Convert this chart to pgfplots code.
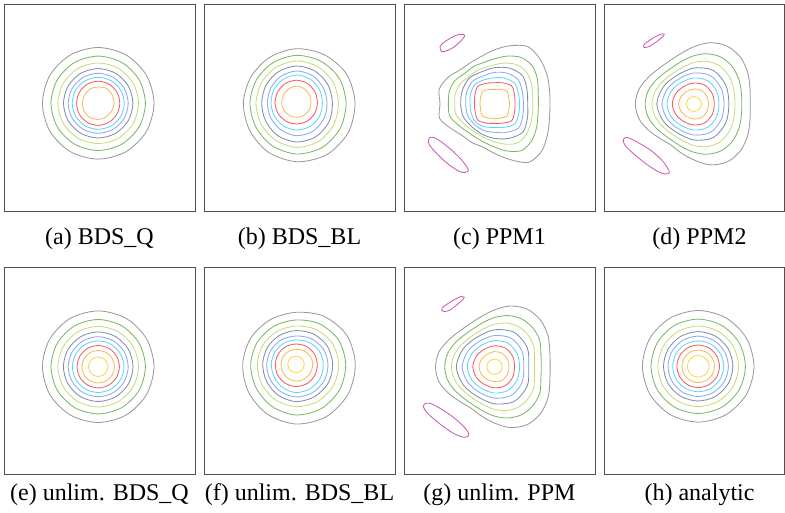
\documentclass[border=0pt]{standalone}
\usepackage{fontspec}
\setmainfont{Liberation Serif}
\usepackage{pgfplots}
\pgfplotsset{compat=1.18}

\definecolor{cgray}{HTML}{9A9A9A}
\definecolor{cgreen}{HTML}{78BA62}
\definecolor{cyg}{HTML}{C8DC78}
\definecolor{cslate}{HTML}{7D8FAF}
\definecolor{cblue}{HTML}{8CA8FA}
\definecolor{ccyan}{HTML}{5CD6FA}
\definecolor{cred}{HTML}{F85C5C}
\definecolor{corange}{HTML}{FDB85A}
\definecolor{cyellow}{HTML}{F8D848}
\definecolor{cmag}{HTML}{CC5AB4}
\definecolor{framec}{HTML}{505050}

% one panel = one axis, 1 unit = 1pt, origin at the peak of the field
\pgfplotsset{
  panel/.style={scale only axis, width=191pt, height=207pt, ticks=none,
    anchor=north west, axis line style={draw=framec, line width=0.8pt}},
  ct/.style={line width=0.85pt, mark=none, smooth cycle, tension=0.52, data cs=polar},
  lobe/.style={line width=0.85pt, mark=none, smooth cycle, cmag},
}

\begin{document}
\begin{tikzpicture}
\useasboundingbox (0,0) rectangle (785pt,-512pt);

% (a) BDS_Q
\begin{axis}[panel, at={(4pt,-4pt)}, xmin=-94.2, xmax=96.8, ymin=-107.7, ymax=99.3]
\addplot[ct, cgray] coordinates {(0,55.8) (30,55.8) (60,55.8) (90,55.8) (120,55.8) (150,55.8) (180,55.8) (210,55.8) (240,55.8) (270,55.8) (300,55.8) (330,55.8)};
\addplot[ct, cgreen] coordinates {(0,47.2) (30,47.2) (60,47.2) (90,47.2) (120,47.2) (150,47.2) (180,47.2) (210,47.2) (240,47.2) (270,47.2) (300,47.2) (330,47.2)};
\addplot[ct, cyg] coordinates {(0,40.3) (30,40.3) (60,40.3) (90,40.3) (120,40.3) (150,40.3) (180,40.3) (210,40.3) (240,40.3) (270,40.3) (300,40.3) (330,40.3)};
\addplot[ct, cslate] coordinates {(0,34.7) (30,34.7) (60,34.7) (90,34.7) (120,34.7) (150,34.7) (180,34.7) (210,34.7) (240,34.7) (270,34.7) (300,34.7) (330,34.7)};
\addplot[ct, cblue] coordinates {(0,30) (30,30) (60,30) (90,30) (120,30) (150,30) (180,30) (210,30) (240,30) (270,30) (300,30) (330,30)};
\addplot[ct, ccyan] coordinates {(0,26) (30,26) (60,26) (90,26) (120,26) (150,26) (180,26) (210,26) (240,26) (270,26) (300,26) (330,26)};
\addplot[ct, cred] coordinates {(0,21.6) (30,21.8) (60,22) (90,22.1) (120,22) (150,21.8) (180,21.6) (210,21.8) (240,22) (270,22.1) (300,21.8) (330,21.6)};
\addplot[ct, corange] coordinates {(0,15.8) (30,16.3) (60,17) (90,16.3) (120,16.5) (150,16) (180,15.8) (210,16.2) (240,16.5) (270,16.2) (300,15.8) (330,15.5)};
\end{axis}

% (b) BDS_BL
\begin{axis}[panel, at={(204pt,-4pt)}, xmin=-92.7, xmax=98.3, ymin=-108.3, ymax=98.7]
\addplot[ct, cgray] coordinates {(0,58.3) (30,57.5) (60,55.3) (90,54) (120,52.8) (150,52.5) (180,53.3) (210,54.5) (240,57) (270,59) (300,60) (330,59.5)};
\addplot[ct, cgreen] coordinates {(0,49.3) (30,49) (60,48) (90,47.3) (120,46.5) (150,46.3) (180,46.7) (210,47.5) (240,49.5) (270,51.3) (300,51.5) (330,50.5)};
\addplot[ct, cyg] coordinates {(0,41.7) (30,41.7) (60,41.7) (90,41.7) (120,41) (150,40.5) (180,40.7) (210,41.5) (240,43) (270,44.7) (300,44.5) (330,43)};
\addplot[ct, cslate] coordinates {(0,35.7) (30,36) (60,36.5) (90,36.7) (120,36) (150,35.3) (180,35) (210,36) (240,38) (270,39.3) (300,39) (330,37.5)};
\addplot[ct, cblue] coordinates {(0,30.3) (30,30.5) (60,31.3) (90,31.7) (120,30.8) (150,29.8) (180,29.3) (210,30) (240,31.5) (270,33) (300,32.8) (330,31.5)};
\addplot[ct, ccyan] coordinates {(0,25.7) (30,26.2) (60,27.2) (90,27.7) (120,27) (150,26.2) (180,25.7) (210,26) (240,26.8) (270,27.3) (300,27.2) (330,26.5)};
\addplot[ct, cred] coordinates {(0,20.7) (30,21.2) (60,22) (90,22.5) (120,22.3) (150,21.8) (180,21.7) (210,21.5) (240,21.3) (270,21.3) (300,21.2) (330,20.9)};
\addplot[ct, corange] coordinates {(0,14.3) (30,14.8) (60,15.8) (90,16.5) (120,16) (150,15.3) (180,15) (210,14.8) (240,14.7) (270,14.7) (300,14.6) (330,14.4)};
\end{axis}

% (c) PPM1
\begin{axis}[panel, at={(404pt,-4pt)}, xmin=-90.7, xmax=100.3, ymin=-107.3, ymax=99.7]
\addplot[lobe] coordinates {(-54.7,57) (-53,52) (-48,53) (-41.3,56.3) (-34.7,62) (-30.3,67) (-31.3,69.3) (-38,68.7) (-44.7,65.3) (-51.3,61)};
\addplot[lobe] coordinates {(-64.7,-33.7) (-59.7,-34.3) (-51.3,-39.7) (-41.3,-48) (-33,-56.3) (-28,-63) (-26.3,-67) (-29.7,-68.7) (-34.7,-68) (-43,-63) (-51.3,-56.3) (-59.7,-48) (-65.3,-41.3) (-66.3,-37)};
\addplot[ct, cgray] coordinates {(0,55.3) (15,56.7) (30,60) (45,63.7) (60,66) (75,60) (90,54) (105,49.3) (120,47.7) (135,48.3) (150,53.3) (165,57.3) (180,54.7) (195,57) (210,50) (225,45.4) (240,45) (255,45) (270,49.7) (285,57.7) (300,67.7) (315,66.7) (330,61) (345,56.7)};
\addplot[ct, cgreen] coordinates {(0,43.7) (15,45) (30,49.3) (45,53.3) (60,53.3) (75,49.3) (90,44.9) (105,42.7) (120,42.7) (135,42.7) (150,46) (165,47) (180,46.3) (195,46.7) (210,42.3) (225,39.3) (240,38.7) (255,40) (270,43.5) (285,49) (300,54) (315,52.3) (330,48.3) (345,44.7)};
\addplot[ct, cyg] coordinates {(0,38.2) (15,39.1) (30,42.1) (45,44.9) (60,44.9) (75,42.1) (90,39) (105,37.5) (120,37.5) (135,37.5) (150,39.8) (165,40.6) (180,40) (195,40.3) (210,37.3) (225,35.2) (240,34.8) (255,35.7) (270,38.1) (285,41.9) (300,45.4) (315,44.2) (330,41.4) (345,39)};
\addplot[ct, cslate] coordinates {(0,33) (22.5,35) (45,39.5) (67.5,38.5) (90,36) (112.5,34.5) (135,36) (157.5,35) (180,34) (202.5,34) (225,32.5) (247.5,33) (270,34.7) (292.5,37.5) (315,40) (337.5,35.5)};
\addplot[ct, cblue] coordinates {(0,28.7) (22.5,30) (45,33.5) (67.5,33) (90,31.3) (112.5,30) (135,31.5) (157.5,30.3) (180,29) (202.5,29.5) (225,29) (247.5,29) (270,28.7) (292.5,31) (315,34) (337.5,30.5)};
\addplot[ct, ccyan] coordinates {(0,24.7) (22.5,25.8) (45,28.5) (67.5,27.5) (90,26) (112.5,26) (135,27.5) (157.5,26) (180,24.7) (202.5,25.3) (225,26.5) (247.5,25) (270,23.7) (292.5,25.5) (315,28.5) (337.5,26)};
\addplot[ct, cred] coordinates {(0,20.3) (22.5,21.5) (45,24.5) (67.5,22.5) (90,21) (112.5,22) (135,24.2) (157.5,21.5) (180,20.3) (202.5,21.2) (225,23.5) (247.5,21) (270,19.7) (292.5,21) (315,24) (337.5,21.5)};
\addplot[ct, corange] coordinates {(0,14.7) (22.5,15.3) (45,17.5) (67.5,15.5) (90,14.3) (112.5,15.2) (135,17.3) (157.5,15.3) (180,14.7) (202.5,15.3) (225,17.5) (247.5,15.5) (270,15) (292.5,15.5) (315,17.5) (337.5,15.3)};
\end{axis}

% (d) PPM2
\begin{axis}[panel, width=180pt, at={(604pt,-4pt)}, xmin=-90, xmax=90, ymin=-107, ymax=100]
\addplot[lobe] coordinates {(-50.7,57.3) (-49,56.3) (-44,58) (-37.3,62.3) (-30.7,68) (-29.7,69.7) (-32.3,70) (-37.3,68) (-44,64) (-49.7,59.7)};
\addplot[lobe] coordinates {(-69.7,-34.3) (-65.7,-33.7) (-55.7,-38.7) (-42.3,-47) (-30.7,-57.7) (-25.7,-65.3) (-24.7,-68.7) (-29,-70) (-35.7,-67.7) (-47.3,-60.3) (-59,-51) (-67.3,-43.3) (-70.7,-37.7)};
\addplot[ct, cgray] coordinates {(0,56.3) (15,58) (30,62.1) (45,65.9) (60,66.7) (75,63.5) (90,57.3) (105,52) (120,49.5) (135,50) (150,52.9) (165,57) (180,58.7) (195,57) (210,52.5) (225,48.5) (240,47) (255,50.5) (270,56) (285,63) (300,66.7) (315,65.9) (330,62.1) (345,58)};
\addplot[ct, cgreen] coordinates {(0,47.8) (15,48.9) (30,51.3) (45,53.6) (60,54.1) (75,52) (90,48.3) (105,44.6) (120,42.6) (135,43) (150,45.3) (165,47.8) (180,48.8) (195,47.8) (210,45.3) (225,43) (240,42.6) (255,44.6) (270,48.3) (285,52) (300,54.1) (315,53.6) (330,51.3) (345,48.9)};
\addplot[ct, cyg] coordinates {(0,41) (15,41.8) (30,43.7) (45,45.4) (60,45.8) (75,44.3) (90,41.5) (105,38.7) (120,37.3) (135,37.6) (150,39.3) (165,41.2) (180,42) (195,41.2) (210,39.3) (225,37.6) (240,37.3) (255,38.7) (270,41.5) (285,44.3) (300,45.8) (315,45.4) (330,43.7) (345,41.8)};
\addplot[ct, cslate] coordinates {(0,34.8) (30,36.9) (60,38.7) (90,36) (120,33.3) (150,35.1) (180,37.2) (210,35.1) (240,33.3) (270,36) (300,38.7) (330,36.9)};
\addplot[ct, cblue] coordinates {(0,30) (30,31.4) (60,32.8) (90,31) (120,29.3) (150,30.6) (180,32) (210,30.6) (240,29.3) (270,31) (300,32.8) (330,31.4)};
\addplot[ct, ccyan] coordinates {(0,25) (30,26) (60,27) (90,26) (120,25) (150,26) (180,27) (210,26) (240,25) (270,26) (300,27) (330,26)};
\addplot[ct, cred] coordinates {(0,20.3) (30,21) (60,21.7) (90,21) (120,20.3) (150,21) (180,21.7) (210,21) (240,20.3) (270,21) (300,21.7) (330,21)};
\addplot[ct, corange] coordinates {(0,14.5) (30,15) (60,15.5) (90,15) (120,14.5) (150,15) (180,15.5) (210,15) (240,14.5) (270,15) (300,15.5) (330,15)};
\addplot[ct, cyellow] coordinates {(0,7.5) (30,7.5) (60,7.5) (90,7.5) (120,7.5) (150,7.5) (180,7.5) (210,7.5) (240,7.5) (270,7.5) (300,7.5) (330,7.5)};
\end{axis}

% (e) unlim. BDS_Q
\begin{axis}[panel, at={(4pt,-267pt)}, xmin=-94.2, xmax=96.8, ymin=-107.3, ymax=99.7]
\addplot[ct, cgray] coordinates {(0,55.8) (30,55.8) (60,55.8) (90,55.8) (120,55.8) (150,55.8) (180,55.8) (210,55.8) (240,55.8) (270,55.8) (300,55.8) (330,55.8)};
\addplot[ct, cgreen] coordinates {(0,47.2) (30,47.2) (60,47.2) (90,47.2) (120,47.2) (150,47.2) (180,47.2) (210,47.2) (240,47.2) (270,47.2) (300,47.2) (330,47.2)};
\addplot[ct, cyg] coordinates {(0,40.3) (30,40.3) (60,40.3) (90,40.3) (120,40.3) (150,40.3) (180,40.3) (210,40.3) (240,40.3) (270,40.3) (300,40.3) (330,40.3)};
\addplot[ct, cslate] coordinates {(0,34.8) (30,34.8) (60,34.8) (90,34.8) (120,34.8) (150,34.8) (180,34.8) (210,34.8) (240,34.8) (270,34.8) (300,34.8) (330,34.8)};
\addplot[ct, cblue] coordinates {(0,30) (30,30) (60,30) (90,30) (120,30) (150,30) (180,30) (210,30) (240,30) (270,30) (300,30) (330,30)};
\addplot[ct, ccyan] coordinates {(0,25.8) (30,25.8) (60,25.8) (90,25.8) (120,25.8) (150,25.8) (180,25.8) (210,25.8) (240,25.8) (270,25.8) (300,25.8) (330,25.8)};
\addplot[ct, cred] coordinates {(0,21.2) (30,21.2) (60,21.2) (90,21.2) (120,21.2) (150,21.2) (180,21.2) (210,21.2) (240,21.2) (270,21.2) (300,21.2) (330,21.2)};
\addplot[ct, corange] coordinates {(0,16.3) (30,16.3) (60,16.3) (90,16.3) (120,16.3) (150,16.3) (180,16.3) (210,16.3) (240,16.3) (270,16.3) (300,16.3) (330,16.3)};
\addplot[ct, cyellow] coordinates {(0,9.7) (30,9.7) (60,9.7) (90,9.7) (120,9.7) (150,9.7) (180,9.7) (210,9.7) (240,9.7) (270,9.7) (300,9.7) (330,9.7)};
\end{axis}

% (f) unlim. BDS_BL
\begin{axis}[panel, at={(204pt,-267pt)}, xmin=-92, xmax=99, ymin=-109.7, ymax=97.3]
\addplot[ct, cgray] coordinates {(0,59.3) (30,58.5) (60,55.5) (90,52) (120,51.5) (150,52.3) (180,53.3) (210,55) (240,57.5) (270,59.7) (300,60.5) (330,60)};
\addplot[ct, cgreen] coordinates {(0,49.7) (30,49) (60,46.8) (90,44.3) (120,44) (150,44.5) (180,45.3) (210,46.3) (240,48.5) (270,50.7) (300,51) (330,50.5)};
\addplot[ct, cyg] coordinates {(0,42.7) (30,42) (60,40.2) (90,38.3) (120,38) (150,38.3) (180,38.7) (210,39.5) (240,41) (270,42.3) (300,43) (330,43)};
\addplot[ct, cslate] coordinates {(0,36.7) (30,36.2) (60,35) (90,33.7) (120,33.3) (150,33.2) (180,33.3) (210,34) (240,35.7) (270,37.3) (300,37.3) (330,37.3)};
\addplot[ct, cblue] coordinates {(0,32) (30,31.3) (60,29.8) (90,28.3) (120,28.5) (150,28.8) (180,29.3) (210,30) (240,31.3) (270,32.7) (300,32.8) (330,32.6)};
\addplot[ct, ccyan] coordinates {(0,27.3) (30,26.8) (60,25.5) (90,24.3) (120,24.3) (150,24.4) (180,24.7) (210,25.3) (240,26.8) (270,28.3) (300,28.2) (330,27.9)};
\addplot[ct, cred] coordinates {(0,21.3) (30,21.1) (60,20.7) (90,20.3) (120,20.4) (150,20.5) (180,20.7) (210,21.2) (240,21.8) (270,22.3) (300,22.2) (330,21.8)};
\addplot[ct, corange] coordinates {(0,16.7) (30,16.4) (60,15.6) (90,15) (120,15) (150,15) (180,15) (210,15.5) (240,16.1) (270,16.7) (300,16.8) (330,16.8)};
\addplot[ct, cyellow] coordinates {(0,8.2) (30,8.2) (60,8.2) (90,8.2) (120,8.2) (150,8.2) (180,8.2) (210,8.2) (240,8.2) (270,8.2) (300,8.2) (330,8.2)};
\end{axis}

% (g) unlim. PPM
\begin{axis}[panel, at={(404pt,-267pt)}, xmin=-90.5, xmax=100.5, ymin=-107.2, ymax=99.8]
\addplot[lobe] coordinates {(-52.8,56.8) (-50.2,55.2) (-44.5,56.8) (-37.8,61.8) (-31.2,67.8) (-30.2,69.5) (-33.5,70.2) (-39.5,67.5) (-46.2,63.5) (-52.2,59.2)};
\addplot[lobe] coordinates {(-70.2,-37.2) (-64.5,-36.5) (-54.5,-41.5) (-42.8,-49.2) (-31.2,-59.2) (-26.2,-65.8) (-26.2,-69.2) (-30.2,-70.5) (-37.8,-68.2) (-47.8,-62.2) (-59.5,-53.2) (-67.8,-45.5) (-71.2,-39.8)};
\addplot[ct, cgray] coordinates {(0,55.6) (15,57.3) (30,61.8) (45,65.5) (60,66.3) (75,63) (90,56.9) (105,51.8) (120,49.5) (135,50) (150,53.2) (165,57.5) (180,59) (195,57.5) (210,53) (225,49) (240,47.5) (255,50.8) (270,56.3) (285,63) (300,66.5) (315,65.5) (330,61.8) (345,57.3)};
\addplot[ct, cgreen] coordinates {(0,46.8) (15,48) (30,52.3) (45,54.6) (60,55.1) (75,53) (90,49.3) (105,45.6) (120,43.6) (135,44) (150,46.3) (165,48.8) (180,49.8) (195,48.8) (210,46.3) (225,44) (240,43.6) (255,45.6) (270,49.3) (285,53) (300,55.1) (315,54.6) (330,52.3) (345,48)};
\addplot[ct, cyg] coordinates {(0,40) (15,41.5) (30,44.7) (45,46.4) (60,46.8) (75,45.3) (90,42.5) (105,39.7) (120,38.3) (135,38.6) (150,40.3) (165,42.2) (180,43) (195,42.2) (210,40.3) (225,38.6) (240,38.3) (255,39.7) (270,42.5) (285,45.3) (300,46.8) (315,46.4) (330,44.7) (345,41.5)};
\addplot[ct, cslate] coordinates {(0,34.2) (30,37.9) (60,39.7) (90,37) (120,34.3) (150,36.1) (180,38.2) (210,36.1) (240,34.3) (270,37) (300,39.7) (330,37.9)};
\addplot[ct, cblue] coordinates {(0,29.3) (30,31.7) (60,33.1) (90,31.3) (120,29.6) (150,30.9) (180,32.3) (210,30.9) (240,29.6) (270,31.3) (300,33.1) (330,31.7)};
\addplot[ct, ccyan] coordinates {(0,25) (30,26.2) (60,27.2) (90,26.2) (120,25.2) (150,26.2) (180,27.2) (210,26.2) (240,25.2) (270,26.2) (300,27.2) (330,26.2)};
\addplot[ct, cred] coordinates {(0,20) (30,21) (60,21.7) (90,21) (120,20.3) (150,21) (180,21.7) (210,21) (240,20.3) (270,21) (300,21.7) (330,21)};
\addplot[ct, corange] coordinates {(0,14.5) (30,15) (60,15.5) (90,15.2) (120,14.6) (150,15) (180,15.5) (210,15) (240,14.6) (270,14.8) (300,15.5) (330,15)};
\addplot[ct, cyellow] coordinates {(0,7.7) (30,7.7) (60,7.7) (90,7.7) (120,7.7) (150,7.7) (180,7.7) (210,7.7) (240,7.7) (270,7.7) (300,7.7) (330,7.7)};
\end{axis}

% (h) analytic
\begin{axis}[panel, width=180pt, at={(604pt,-267pt)}, xmin=-94.2, xmax=85.8, ymin=-107.7, ymax=99.3]
\addplot[ct, cgray] coordinates {(0,55.8) (30,55.8) (60,55.8) (90,55.8) (120,55.8) (150,55.8) (180,55.8) (210,55.8) (240,55.8) (270,55.8) (300,55.8) (330,55.8)};
\addplot[ct, cgreen] coordinates {(0,47.2) (30,47.2) (60,47.2) (90,47.2) (120,47.2) (150,47.2) (180,47.2) (210,47.2) (240,47.2) (270,47.2) (300,47.2) (330,47.2)};
\addplot[ct, cyg] coordinates {(0,40.3) (30,40.3) (60,40.3) (90,40.3) (120,40.3) (150,40.3) (180,40.3) (210,40.3) (240,40.3) (270,40.3) (300,40.3) (330,40.3)};
\addplot[ct, cslate] coordinates {(0,34.7) (30,34.7) (60,34.7) (90,34.7) (120,34.7) (150,34.7) (180,34.7) (210,34.7) (240,34.7) (270,34.7) (300,34.7) (330,34.7)};
\addplot[ct, cblue] coordinates {(0,30.2) (30,30.2) (60,30.2) (90,30.2) (120,30.2) (150,30.2) (180,30.2) (210,30.2) (240,30.2) (270,30.2) (300,30.2) (330,30.2)};
\addplot[ct, ccyan] coordinates {(0,25.5) (30,25.5) (60,25.5) (90,25.5) (120,25.5) (150,25.5) (180,25.5) (210,25.5) (240,25.5) (270,25.5) (300,25.5) (330,25.5)};
\addplot[ct, cred] coordinates {(0,21.3) (30,21.3) (60,21.3) (90,21.3) (120,21.3) (150,21.3) (180,21.3) (210,21.3) (240,21.3) (270,21.3) (300,21.3) (330,21.3)};
\addplot[ct, corange] coordinates {(0,16.3) (30,16.3) (60,16.3) (90,16.3) (120,16.3) (150,16.3) (180,16.3) (210,16.3) (240,16.3) (270,16.3) (300,16.3) (330,16.3)};
\addplot[ct, cyellow] coordinates {(0,10.8) (30,10.8) (60,10.8) (90,10.8) (120,10.8) (150,10.8) (180,10.8) (210,10.8) (240,10.8) (270,10.8) (300,10.8) (330,10.8)};
\end{axis}

% captions
\begin{scope}[every node/.style={anchor=base, font=\fontsize{24}{28}\selectfont}]
\node at (99.5pt,-244pt) {(a) BDS\_Q};
\node at (299.5pt,-244pt) {(b) BDS\_BL};
\node at (499.5pt,-244pt) {(c) PPM1};
\node at (699.5pt,-244pt) {(d) PPM2};
\node at (99.5pt,-500pt) {(e) unlim. BDS\_Q};
\node at (299.5pt,-500pt) {(f) unlim. BDS\_BL};
\node at (499.5pt,-500pt) {(g) unlim. PPM};
\node at (699.5pt,-500pt) {(h) analytic};
\end{scope}
\end{tikzpicture}
\end{document}
